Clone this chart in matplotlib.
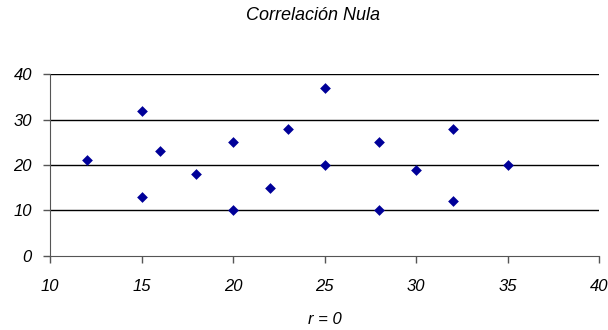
import matplotlib
matplotlib.use("Agg")
import matplotlib.pyplot as plt

# values
x_vals = [12, 15, 15, 16, 18, 20, 20, 22, 23, 25, 25, 28, 28, 30, 32, 32, 35]
y_vals = [21, 32, 13, 23, 18, 25, 10, 15, 28, 37, 20, 25, 10, 19, 28, 12, 20]
x_ticks = [10, 15, 20, 25, 30, 35, 40]
y_ticks = [0, 10, 20, 30, 40]

plt.rcParams["font.family"] = ["Liberation Sans", "DejaVu Sans"]
plt.rcParams["font.style"] = "italic"

fig = plt.figure(figsize=(6.08, 3.30), dpi=100)
ax = fig.add_axes([50 / 608, 1 - 255.7 / 330, 549 / 608, 181.4 / 330])

ax.scatter(x_vals, y_vals, marker="D", s=30, color="#000099", zorder=3,
           linewidths=0)

ax.set_xlim(10, 40)
ax.set_ylim(0, 40)
ax.set_xticks(x_ticks)
ax.set_yticks(y_ticks)
ax.set_xticklabels([str(t) for t in x_ticks], fontsize=12, style="italic")
ax.set_yticklabels([str(t) for t in y_ticks], fontsize=12, style="italic")

for y in y_ticks[1:]:
    ax.axhline(y, color="black", linewidth=1.0, zorder=1)

for side in ["top", "right"]:
    ax.spines[side].set_visible(False)
ax.spines["left"].set_color("#555555")
ax.spines["bottom"].set_color("#555555")
ax.tick_params(axis="both", direction="out", length=5, width=1,
               color="#555555")
ax.tick_params(axis="x", pad=12)
ax.tick_params(axis="y", pad=8)

ax.set_xlabel("r = 0", fontsize=12, style="italic", labelpad=13)
fig.text(313 / 608, 1 - 16 / 330, "Correlación Nula", fontsize=13,
         style="italic", ha="center", va="center")

fig.savefig("out.png", dpi=100)
